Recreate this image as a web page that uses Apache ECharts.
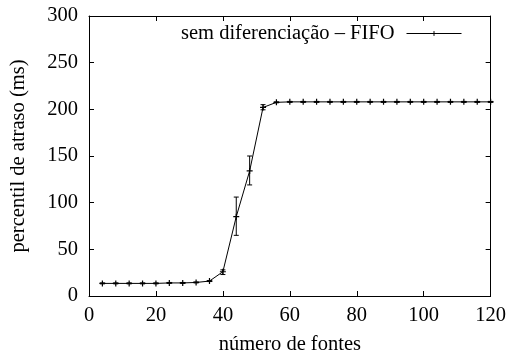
<!DOCTYPE html>
<html>
<head>
<meta charset="utf-8">
<script src="https://cdn.jsdelivr.net/npm/echarts@6/dist/echarts.min.js"></script>
<style>
  html, body { margin: 0; padding: 0; background: #fff; }
  #chart { width: 509px; height: 360px; }
</style>
</head>
<body>
<div id="chart"></div>
<script>
// Number of sources (x) and delay percentile in ms (y), with error bar limits
var fontes = [4, 8, 12, 16, 20, 24, 28, 32, 36, 40, 44, 48, 52, 56, 60, 64, 68, 72, 76, 80, 84, 88, 92, 96, 100, 104, 108, 112, 116, 120];
var atraso = [13.5, 13.5, 13.5, 13.5, 13.5, 14, 14, 14.5, 16, 26, 85, 134, 202, 207.5, 208, 208, 208, 208, 208, 208, 208, 208, 208, 208, 208, 208, 208, 208, 208, 208];
var erroMin = [13, 13, 13, 13, 13, 13.5, 13.5, 14, 15.5, 23, 65, 119, 199.5, 207, 207.5, 207.5, 207.5, 207.5, 207.5, 207.5, 207.5, 207.5, 207.5, 207.5, 207.5, 207.5, 207.5, 207.5, 207.5, 207.5];
var erroMax = [14, 14, 14, 14, 14, 14.5, 14.5, 15, 16.5, 28, 106, 150, 205, 208, 208.5, 208.5, 208.5, 208.5, 208.5, 208.5, 208.5, 208.5, 208.5, 208.5, 208.5, 208.5, 208.5, 208.5, 208.5, 208.5];
var serieNome = 'sem diferenciação – FIFO';

var FONT = '"Liberation Serif", "Times New Roman", serif';
var cross = 'path://M0,5L10,5M5,0L5,10';

var chart = echarts.init(document.getElementById('chart'), null, { renderer: 'canvas' });

function axisBase(extra) {
  var a = {
    axisLine: { show: true, onZero: false, lineStyle: { color: '#000', width: 1 } },
    axisTick: { show: true, inside: true, length: 5, lineStyle: { color: '#000', width: 1 } },
    splitLine: { show: false },
    axisLabel: { color: '#000', fontFamily: FONT, fontSize: 20 }
  };
  for (var k in extra) a[k] = extra[k];
  return a;
}

var option = {
  animation: false,
  backgroundColor: '#fff',
  grid: { left: 89, right: 16, top: 16, bottom: 64, containLabel: false },
  legend: {
    data: [serieNome],
    right: 42,
    top: 18,
    align: 'right',
    itemWidth: 55,
    itemHeight: 6,
    itemGap: 0,
    lineStyle: { width: 1, color: '#000' },
    itemStyle: { color: '#000', borderColor: '#000', borderWidth: 1 },
    textStyle: { color: '#000', fontFamily: FONT, fontSize: 20.5, padding: [0, 7, 0, 0] }
  },
  xAxis: [
    axisBase({
      type: 'value', min: 0, max: 120, interval: 20, position: 'bottom',
      axisLabel: { color: '#000', fontFamily: FONT, fontSize: 20.5, margin: 9 },
      name: 'número de fontes', nameLocation: 'middle', nameGap: 38,
      nameTextStyle: { color: '#000', fontFamily: FONT, fontSize: 20.5 }
    }),
    axisBase({
      type: 'value', min: 0, max: 120, interval: 20, position: 'top',
      axisLabel: { show: false }
    })
  ],
  yAxis: [
    axisBase({
      type: 'value', min: 0, max: 300, interval: 50, position: 'left',
      axisLabel: { color: '#000', fontFamily: FONT, fontSize: 20.5, margin: 11 },
      name: 'percentil de atraso (ms)', nameLocation: 'middle', nameGap: 60,
      nameTextStyle: { color: '#000', fontFamily: FONT, fontSize: 20.5 }
    }),
    axisBase({
      type: 'value', min: 0, max: 300, interval: 50, position: 'right',
      axisLabel: { show: false }
    })
  ],
  series: [
    {
      name: serieNome,
      type: 'line',
      data: fontes.map(function (x, i) { return [x, atraso[i]]; }),
      symbol: cross,
      symbolSize: 6,
      showSymbol: true,
      lineStyle: { color: '#000', width: 1 },
      itemStyle: { color: '#000', borderColor: '#000', borderWidth: 1.2 },
      z: 3
    },
    {
      name: 'erro',
      type: 'custom',
      data: fontes.map(function (x, i) { return [x, erroMin[i], erroMax[i]]; }),
      renderItem: function (params, api) {
        var lo = api.coord([api.value(0), api.value(1)]);
        var hi = api.coord([api.value(0), api.value(2)]);
        var w = 2.5;
        var st = { stroke: '#000', lineWidth: 1 };
        return {
          type: 'group',
          children: [
            { type: 'line', shape: { x1: lo[0], y1: lo[1], x2: hi[0], y2: hi[1] }, style: st },
            { type: 'line', shape: { x1: lo[0] - w, y1: lo[1], x2: lo[0] + w, y2: lo[1] }, style: st },
            { type: 'line', shape: { x1: hi[0] - w, y1: hi[1], x2: hi[0] + w, y2: hi[1] }, style: st }
          ]
        };
      },
      z: 4
    }
  ]
};

chart.setOption(option);
</script>
</body>
</html>
